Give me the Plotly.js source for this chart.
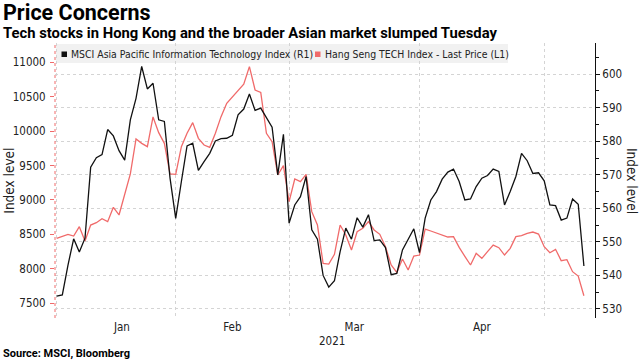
<!DOCTYPE html>
<html>
<head>
<meta charset="utf-8">
<script src="https://cdn.plot.ly/plotly-3.0.1.min.js"></script>
<style>
  html, body { margin: 0; padding: 0; background: #ffffff; }
  #chart { width: 640px; height: 360px; }
</style>
</head>
<body>
<div id="chart"></div>
<script>
// Trading days (weekday axis)
const dates = [
  '2021-01-01','2021-01-04','2021-01-05','2021-01-06','2021-01-07','2021-01-08',
  '2021-01-11','2021-01-12','2021-01-13','2021-01-14','2021-01-15',
  '2021-01-18','2021-01-19','2021-01-20','2021-01-21','2021-01-22',
  '2021-01-25','2021-01-26','2021-01-27','2021-01-28','2021-01-29',
  '2021-02-01','2021-02-02','2021-02-03','2021-02-04','2021-02-05',
  '2021-02-08','2021-02-09','2021-02-10','2021-02-11','2021-02-12',
  '2021-02-15','2021-02-16','2021-02-17','2021-02-18','2021-02-19',
  '2021-02-22','2021-02-23','2021-02-24','2021-02-25','2021-02-26',
  '2021-03-01','2021-03-02','2021-03-03','2021-03-04','2021-03-05',
  '2021-03-08','2021-03-09','2021-03-10','2021-03-11','2021-03-12',
  '2021-03-15','2021-03-16','2021-03-17','2021-03-18','2021-03-19',
  '2021-03-22','2021-03-23','2021-03-24','2021-03-25','2021-03-26',
  '2021-03-29','2021-03-30','2021-03-31',
  '2021-04-01','2021-04-02','2021-04-05','2021-04-06','2021-04-07','2021-04-08','2021-04-09',
  '2021-04-12','2021-04-13','2021-04-14','2021-04-15','2021-04-16',
  '2021-04-19','2021-04-20','2021-04-21','2021-04-22','2021-04-23',
  '2021-04-26','2021-04-27','2021-04-28','2021-04-29','2021-04-30',
  '2021-05-03','2021-05-04','2021-05-05','2021-05-06','2021-05-07',
  '2021-05-10','2021-05-11','2021-05-12'
];

// MSCI Asia Pacific Information Technology Index (R1) - right axis
const msciAsiaIT = [
  533.8,534.2,543.1,550.9,547.0,551.1,572.3,575.1,576.0,583.5,581.6,
  577.2,574.4,586.4,592.8,602.3,595.6,597.3,586.4,585.9,569.0,
  557.0,568.0,578.6,579.4,571.3,573.9,576.4,580.1,580.8,580.9,
  581.8,587.9,589.6,594.1,589.2,589.9,586.9,584.2,570.0,582.1,
  555.6,561.0,563.5,569.5,553.6,550.8,540.0,536.5,538.4,547.1,
  554.1,550.8,557.2,554.4,558.1,550.4,550.6,548.3,540.2,540.6,
  547.6,550.6,553.9,
  546.8,557.1,562.5,565.0,568.7,570.8,571.7,568.0,562.5,562.8,
  566.5,569.0,569.8,571.7,571.0,561.0,565.0,569.5,576.4,574.2,
  570.4,570.6,
  568.2,561.0,560.8,556.5,557.1,562.8,561.2,542.8
];

// Hang Seng TECH Index - Last Price (L1) - left axis
const hangSengTech = [
  8441,8466,8499,8475,8611,8403,8635,8669,8727,8684,8892,
  8781,9096,9377,9885,9822,9774,10205,9977,9822,9377,
  9372,9774,9968,10123,9895,9798,9764,9968,10210,10404,
  10491,10583,10680,10937,10597,10563,9968,9846,9362,9498,
  8974,9304,9265,9372,8829,8635,8078,8068,8209,8635,
  8490,8272,8538,8587,8684,8563,8500,8320,8054,7947,
  8141,7981,8185,
  8199,8577,8548,8519,8490,8461,8466,8310,8180,8054,
  8223,8151,8248,8344,8306,8199,8296,8466,8480,8514,
  8533,8504,
  8320,8233,8282,8117,8131,7957,7894,7608
];

const leftTicks = [7500, 8000, 8500, 9000, 9500, 10000, 10500, 11000];
const rightTicks = [530, 540, 550, 560, 570, 580, 590, 600];

const seriesNames = ['MSCI Asia Pacific Information Technology Index (R1)', 'Hang Seng TECH Index - Last Price (L1)'];
const black = '#111111';
const red = '#f06a6a';
const narrow = '"Liberation Sans Narrow", "DejaVu Sans Condensed", sans-serif';
const tickFont = { family: narrow, size: 11.5, color: '#222222' };
const boldFont = 'Roboto, "Liberation Sans", sans-serif';

const traces = [
  { x: dates, y: hangSengTech, name: seriesNames[1], type: 'scatter', mode: 'lines',
    line: { color: red, width: 1.3 }, yaxis: 'y', showlegend: false },
  { x: dates, y: msciAsiaIT, name: seriesNames[0], type: 'scatter', mode: 'lines',
    line: { color: black, width: 1.3 }, yaxis: 'y2', showlegend: false }
];

const L = 55, R = 595, T = 43, B = 318;
const W = R - L, H = B - T;
const px = v => (v - L) / W;
const py = v => (B - v) / H;

const layout = {
  width: 640, height: 360,
  margin: { l: L, r: 640 - R, t: T, b: 360 - B, pad: 0 },
  paper_bgcolor: '#ffffff', plot_bgcolor: '#ffffff',
  showlegend: false,
  xaxis: {
    type: 'date',
    range: ['2020-12-31 17:00', '2021-05-13 23:00'],
    rangebreaks: [{ bounds: ['sat', 'mon'] }],
    tick0: '2021-01-01', dtick: 'M1', tickformat: '%b',
    ticklabelmode: 'period',
    ticks: '', showline: false, zeroline: false,
    showgrid: true, gridcolor: '#d4d4d4', griddash: 'dot', gridwidth: 1,
    tickfont: tickFont, fixedrange: true
  },
  yaxis: {
    range: [7284, 11280], tickvals: leftTicks, tickformat: 'd',
    ticks: 'outside', ticklen: 4, tickcolor: red, tickwidth: 1,
    showgrid: false, showline: false, zeroline: false,
    tickfont: tickFont, ticklabelstandoff: 2
  },
  yaxis2: {
    overlaying: 'y', side: 'right', anchor: 'x',
    range: [527.3, 609.3], tickvals: rightTicks, tickformat: 'd',
    ticks: 'outside', ticklen: 4, tickcolor: black, tickwidth: 1,
    minor: { dtick: 5, tick0: 530, ticks: 'outside', ticklen: 3, tickcolor: black, showgrid: false },
    showgrid: true, gridcolor: '#d4d4d4', griddash: 'dot', gridwidth: 1,
    showline: true, linecolor: black, linewidth: 1, zeroline: false,
    tickfont: tickFont
  },
  shapes: [
    // dotted red left axis line
    { type: 'line', xref: 'paper', yref: 'paper', x0: 0, x1: 0, y0: 0, y1: 1,
      line: { color: red, width: 1, dash: 'dot' } },
    // legend background
    { type: 'rect', xref: 'paper', yref: 'paper', x0: px(56), x1: px(508), y0: py(63), y1: py(44),
      fillcolor: '#f1f1f1', line: { width: 0 }, layer: 'below' },
    { type: 'rect', xref: 'paper', yref: 'paper', x0: px(61.5), x1: px(67), y0: py(57), y1: py(51.5),
      fillcolor: black, line: { width: 0 } },
    { type: 'rect', xref: 'paper', yref: 'paper', x0: px(315), x1: px(320.5), y0: py(57), y1: py(51.5),
      fillcolor: red, line: { width: 0 } }
  ],
  annotations: [
    { text: 'Price Concerns', xref: 'paper', yref: 'paper', x: px(1), y: py(13),
      xanchor: 'left', yanchor: 'middle', showarrow: false,
      font: { family: boldFont, size: 21.5, color: '#000000', weight: 700 } },
    { text: 'Tech stocks in Hong Kong and the broader Asian market slumped Tuesday', xref: 'paper', yref: 'paper',
      x: px(1), y: py(33), xanchor: 'left', yanchor: 'middle', showarrow: false,
      font: { family: boldFont, size: 14.8, color: '#000000', weight: 700 } },
    { text: 'Source: MSCI, Bloomberg', xref: 'paper', yref: 'paper', x: px(1), y: py(353.5),
      xanchor: 'left', yanchor: 'middle', showarrow: false,
      font: { family: boldFont, size: 11, color: '#000000', weight: 700 } },
    { text: seriesNames[0], xref: 'paper', yref: 'paper', x: px(69), y: py(54),
      xanchor: 'left', yanchor: 'middle', showarrow: false,
      font: { family: narrow, size: 10.4, color: '#222222' } },
    { text: seriesNames[1], xref: 'paper', yref: 'paper', x: px(322.5), y: py(54),
      xanchor: 'left', yanchor: 'middle', showarrow: false,
      font: { family: narrow, size: 10.4, color: '#222222' } },
    { text: 'Index level', xref: 'paper', yref: 'paper', x: px(8.7), y: py(181),
      xanchor: 'center', yanchor: 'middle', textangle: -90, showarrow: false,
      font: { family: narrow, size: 13.5, color: '#222222' } },
    { text: 'Index level', xref: 'paper', yref: 'paper', x: px(632), y: py(181),
      xanchor: 'center', yanchor: 'middle', textangle: 90, showarrow: false,
      font: { family: narrow, size: 13.5, color: '#222222' } },
    { text: '2021', xref: 'paper', yref: 'paper', x: px(332), y: py(341),
      xanchor: 'center', yanchor: 'middle', showarrow: false,
      font: tickFont }
  ]
};

Plotly.newPlot('chart', traces, layout, { staticPlot: true, displayModeBar: false });
</script>
</body>
</html>
